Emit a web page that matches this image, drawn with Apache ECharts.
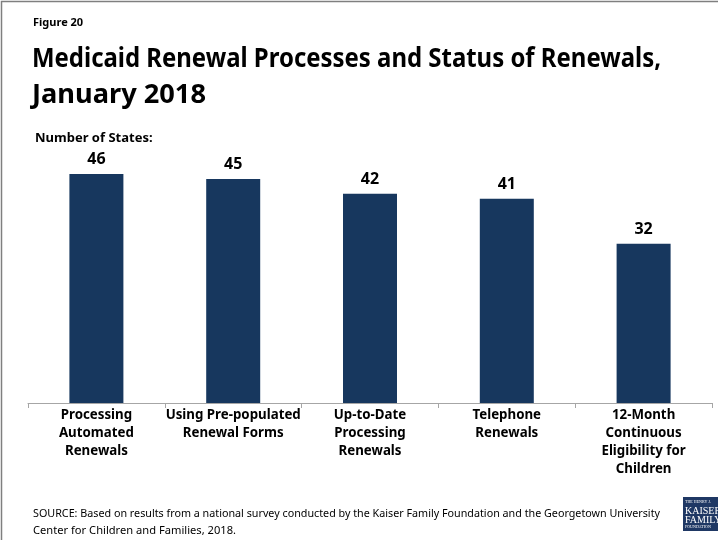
<!DOCTYPE html>
<html>
<head>
<meta charset="utf-8">
<script src="https://cdn.jsdelivr.net/npm/echarts@6/dist/echarts.min.js"></script>
<style>
html,body{margin:0;padding:0;background:#fff;}
#chart{width:718px;height:540px;}
</style>
</head>
<body>
<div id="chart"></div>
<script>
const categories = [
  "Processing\nAutomated\nRenewals",
  "Using Pre-populated\nRenewal Forms",
  "Up-to-Date\nProcessing\nRenewals",
  "Telephone\nRenewals",
  "12-Month\nContinuous\nEligibility for\nChildren"
];
const numberOfStates = [46, 45, 42, 41, 32];
const figureLabel = "Figure 20";
const titleLines = ["Medicaid Renewal Processes and Status of Renewals,", "January 2018"];
const subtitleText = "Number of States:";
const sourceLines = [
  "SOURCE: Based on results from a national survey conducted by the Kaiser Family Foundation and the Georgetown University",
  "Center for Children and Families, 2018."
];

const FONT = '"Noto Sans", sans-serif';
const ctx = document.createElement('canvas').getContext('2d');
function fitScale(text, font, target) {
  ctx.font = font;
  const w = ctx.measureText(text).width;
  return target / w;
}
function fittedText(text, font, x, y, target) {
  return {type: 'text', x: x, y: y, scaleX: fitScale(text, font, target),
    style: {text: text, font: font, fill: '#000', textVerticalAlign: 'top'}};
}

const titleFont = 'bold 27px ' + FONT;
const srcFont = '11px ' + FONT;

const chart = echarts.init(document.getElementById('chart'));
chart.setOption({
  backgroundColor: '#fff',
  animation: false,
  grid: {left: 28, right: 6, top: 154, bottom: 137},
  xAxis: {
    type: 'category',
    data: categories,
    axisLine: {lineStyle: {color: '#a6a6a6', width: 1}},
    axisTick: {show: true, length: 5, lineStyle: {color: '#a6a6a6'}},
    axisLabel: {interval: 0, color: '#000', fontFamily: FONT, fontWeight: 'bold', fontSize: 13.3, lineHeight: 18, margin: 3}
  },
  yAxis: {
    type: 'value', min: 0, max: 50, show: false,
    splitLine: {show: false}
  },
  series: [{
    type: 'bar',
    data: numberOfStates,
    barWidth: 54,
    itemStyle: {color: '#17375E'},
    label: {show: true, position: 'top', distance: 6, color: '#000', fontFamily: FONT, fontWeight: 'bold', fontSize: 16}
  }],
  graphic: [
    {type: 'polyline', shape: {points: [[1.5, 540], [1.5, 1.5], [718, 1.5]]}, style: {stroke: '#7f7f7f', lineWidth: 1.5, fill: null}},
    {type: 'text', x: 33, y: 17, style: {text: figureLabel, font: 'bold 11px ' + FONT, fill: '#000', textVerticalAlign: 'top'}},
    fittedText(titleLines[0], titleFont, 32, 46, 629),
    fittedText(titleLines[1], titleFont, 32, 82, 174),
    {type: 'text', x: 35, y: 132, style: {text: subtitleText, font: 'bold 13px ' + FONT, fill: '#000', textVerticalAlign: 'top'}},
    fittedText(sourceLines[0], srcFont, 33, 508, 627),
    fittedText(sourceLines[1], srcFont, 33, 525, 203),
    {type: 'group', x: 683, y: 497, children: [
      {type: 'rect', shape: {x: 0, y: 0, width: 35, height: 34}, style: {fill: '#1F3864'}},
      {type: 'text', x: 2, y: 3, style: {text: 'THE HENRY J.', font: '4px serif', fill: '#fff'}},
      {type: 'text', x: 2, y: 9, style: {text: 'KAISER', font: '10px serif', fill: '#fff'}},
      {type: 'text', x: 2, y: 18, style: {text: 'FAMILY', font: '10px serif', fill: '#fff'}},
      {type: 'text', x: 2, y: 28, style: {text: 'FOUNDATION', font: '4px serif', fill: '#fff'}}
    ]}
  ]
});
</script>
</body>
</html>
